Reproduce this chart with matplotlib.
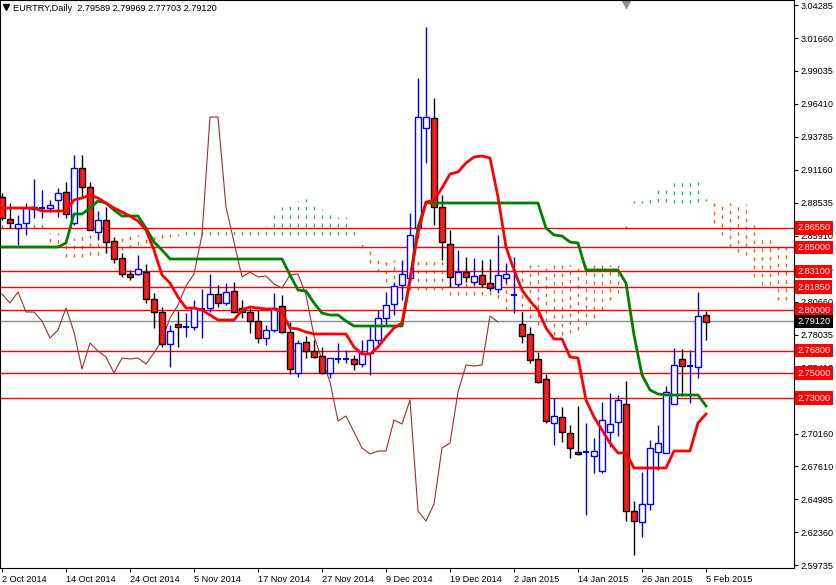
import numpy as np
import matplotlib
matplotlib.use("Agg")
import matplotlib.pyplot as plt
from matplotlib.transforms import blended_transform_factory

# Readings were taken off the chart in screen rows; the price scale of the
# chart is: price = 3.04683 - row * 0.0007955
P0, DP = 3.04683, 0.0007955


def to_price(rows):
    return P0 - np.asarray(rows, dtype=float) * DP


# daily candles, 2 Oct 2014 .. 5 Feb 2015 (open, high, low, close rows)
ohlc_rows = [
    (197, 193, 220, 218), (219, 203, 228, 223), (228, 215, 245, 224), (223, 203, 235, 208),
    (209, 179, 218, 207), (208, 190, 218, 207), (208, 200, 212, 205), (200, 188, 217, 193),
    (192, 182, 218, 214), (223, 155, 225, 168), (168, 155, 198, 187), (187, 182, 230, 230),
    (232, 211, 240, 220), (220, 207, 253, 242), (241, 237, 263, 259), (258, 253, 277, 274),
    (274, 270, 280, 277), (274, 255, 275, 269), (272, 264, 303, 299), (299, 293, 328, 312),
    (312, 307, 347, 344), (344, 325, 367, 331), (324, 311, 347, 327), (327, 313, 337, 327),
    (327, 300, 330, 308), (309, 289, 338, 308), (308, 274, 312, 294), (294, 285, 307, 303),
    (303, 283, 305, 292), (291, 282, 313, 312), (308, 300, 318, 312), (312, 308, 333, 321),
    (321, 310, 343, 338), (338, 325, 345, 330), (330, 293, 332, 308), (306, 295, 333, 332),
    (332, 322, 374, 369), (373, 340, 377, 343), (342, 336, 358, 351), (351, 340, 358, 357),
    (356, 347, 374, 373), (373, 358, 378, 358), (359, 343, 363, 359), (359, 350, 363, 358),
    (359, 355, 370, 364), (364, 340, 367, 353), (353, 325, 375, 340), (340, 310, 347, 318),
    (318, 292, 325, 305), (304, 282, 315, 286), (285, 260, 300, 274), (278, 213, 283, 235),
    (228, 78, 238, 117), (128, 27, 163, 117), (118, 98, 225, 207), (207, 195, 260, 242),
    (244, 230, 287, 277), (284, 250, 287, 272), (272, 257, 282, 277), (282, 258, 285, 276),
    (275, 260, 287, 284), (283, 259, 291, 288), (289, 235, 293, 275), (278, 263, 283, 274),
    (295, 257, 313, 295), (324, 312, 343, 336), (334, 327, 363, 360), (359, 352, 383, 382),
    (379, 374, 423, 421), (423, 398, 445, 416), (417, 407, 442, 432), (433, 425, 458, 448),
    (452, 406, 455, 454), (452, 423, 515, 451), (456, 438, 473, 451), (471, 402, 473, 420),
    (432, 393, 447, 424), (422, 395, 436, 400), (404, 381, 521, 511), (511, 501, 555, 521),
    (522, 472, 537, 504), (504, 440, 510, 448), (452, 425, 470, 443), (453, 386, 453, 392),
    (404, 348, 404, 365), (359, 349, 396, 366), (366, 350, 403, 365), (367, 292, 378, 316),
    (315, 311, 340, 322),
]

tenkan_rows = ([208] * 5 + [211] * 4 + [200, 198, 195, 198, 203, 208, 212, 216, 221, 230,
               250, 275, 283, 297, 308, 308, 310, 315, 320, 320, 320, 310, 307, 308, 309,
               309, 312, 328, 329, 332] + [334] * 5 +
               [347, 354, 354, 347, 337, 328, 323, 280, 233, 202, 200, 188, 174, 172, 163,
                157, 156, 158, 197, 247, 270, 290, 301, 310, 328, 339, 339, 357, 358, 400,
                417, 430, 443, 453, 453] + [468] * 5 + [451] * 3 + [423, 414])

kijun_rows = ([247] * 8 + [243, 214, 214, 208, 201, 203, 210, 216, 216, 216, 228, 242, 250] +
              [259] * 15 + [275, 290, 291, 303, 313, 315, 315, 321] + [326] * 7 +
              [280, 227] + [203] * 15 + [228, 235, 236, 242, 243] + [270] * 5 +
              [283, 335, 375, 390, 394] + [395] * 5 + [406])

# Ichimoku cloud, already shifted 26 bars forward (100 bars)
span_a_rows = ([222] * 6 + [242, 243, 257, 257, 257, 255, 255, 253, 252, 250, 248, 245, 243,
               240, 238, 237, 236] + [229] * 4 + [228] * 5 +
               [227, 226, 215, 207, 204, 201, 199, 203, 209, 215, 217, 217, 228,
                248, 263, 272, 282, 287] + [290] * 6 + [295] * 6 +
               [298, 310, 312, 315, 318, 325, 330, 335, 335, 333, 330, 325, 318, 310, 300, 293,
                226, 201, 201, 195, 188, 187, 183, 179, 179, 181, 199,
                223, 235, 247, 252, 255, 277, 285, 285, 300, 300, 333])
span_b_rows = ([228] * 6 + [233, 233, 238, 238] + [235] * 10 + [234] * 3 + [235] * 22 +
               [242, 250] + [260] * 9 + [263] * 8 + [265] * 14 +
               [229, 203, 203, 203, 202, 202, 203, 203, 203, 202, 201,
                203, 203, 203, 203, 204, 225, 235, 235, 242, 242, 270])

levels = [2.8655, 2.8500, 2.8310, 2.8185, 2.8000, 2.7680, 2.7500, 2.7300]
bid = 2.7912
y_ticks = [3.04285, 3.01660, 2.99035, 2.96410, 2.93785, 2.91160, 2.88535, 2.85910,
           2.83285, 2.80660, 2.78035, 2.75410, 2.72785, 2.70160, 2.67610, 2.64985,
           2.62360, 2.59735]
date_labels = ["2 Oct 2014", "14 Oct 2014", "24 Oct 2014", "5 Nov 2014", "17 Nov 2014",
               "27 Nov 2014", "9 Dec 2014", "19 Dec 2014", "2 Jan 2015", "14 Jan 2015",
               "26 Jan 2015", "5 Feb 2015"]

o, h, l, c = (to_price(col) for col in zip(*ohlc_rows))
tenkan = to_price(tenkan_rows)
kijun = to_price(kijun_rows)
span_a = to_price(span_a_rows)
span_b = to_price(span_b_rows)
n = len(c)
chikou = c[26:]

plt.rcParams["font.family"] = ["Liberation Sans", "DejaVu Sans"]
FS = 6.6

fig = plt.figure(figsize=(8.37, 5.85), dpi=100)
ax = fig.add_axes([0.0, 1 - 568 / 585, 794 / 837, 568 / 585])
ax.set_xlim(-0.25, 99.0)
ax.set_ylim(P0 - 568 * DP, P0)

# cloud as dotted verticals
for i in range(len(span_a)):
    col = "#2db36b" if span_a[i] > span_b[i] else "#ff5a14"
    ax.vlines(i, min(span_a[i], span_b[i]), max(span_a[i], span_b[i]), colors=col,
              linewidth=1, linestyles=(0, (2.5, 3.5)), zorder=1)

for lv in levels:
    ax.axhline(lv, color="#ff0000", linewidth=1, zorder=2)
ax.axhline(bid, color="#8c8c8c", linewidth=1, zorder=2)

ax.plot(np.arange(len(chikou)), chikou, color="#a0302a", linewidth=0.8, zorder=3)

# candles
x = np.arange(n)
for i in range(n):
    up = c[i] >= o[i]
    edge = "#0000ff" if up else "#000000"
    face = "#ffffff" if up else "#ff1a1a"
    ax.vlines(i, l[i], h[i], colors=edge, linewidth=1, zorder=4)
    lo, hi = sorted((o[i], c[i]))
    if hi - lo < 1.5 * DP:
        ax.hlines((lo + hi) / 2, i - 0.35, i + 0.35, colors=edge, linewidth=1.5, zorder=5)
    else:
        ax.add_patch(plt.Rectangle((i - 0.32, lo), 0.64, hi - lo, facecolor=face,
                                   edgecolor=edge, linewidth=1, zorder=5))

ax.plot(x, kijun, color="#008000", linewidth=2, zorder=6)
ax.plot(x, tenkan, color="#ff0000", linewidth=2, zorder=6)

# axes styling
ax.yaxis.tick_right()
ax.set_yticks(y_ticks)
ax.set_yticklabels([f"{v:.5f}" for v in y_ticks], fontsize=FS)
ax.set_xticks(np.arange(0, 89, 8))
ax.set_xticklabels(date_labels, fontsize=FS, ha="left")
ax.tick_params(axis="both", direction="out", length=3, width=0.8, pad=2)
for sp in ax.spines.values():
    sp.set_linewidth(0.8)

tr = blended_transform_factory(ax.transAxes, ax.transData)
for lv in levels:
    ax.text(1.004, lv, f"{lv:.5f}", transform=tr, fontsize=FS, color="white", va="center",
            ha="left", zorder=10, clip_on=False,
            bbox=dict(boxstyle="square,pad=0.25", facecolor="#ff0000", edgecolor="none"))
ax.text(1.004, bid, f"{bid:.5f}", transform=tr, fontsize=FS, color="white", va="center",
        ha="left", zorder=10, clip_on=False,
        bbox=dict(boxstyle="square,pad=0.25", facecolor="#000000", edgecolor="none"))

ax.text(0.016, 0.993, "EURTRY,Daily  2.79589 2.79969 2.77703 2.79120", transform=ax.transAxes,
        fontsize=FS, va="top", ha="left")
ax.plot([0.007], [0.987], marker="v", color="black", markersize=4, transform=ax.transAxes,
        clip_on=False)
ax.plot([0.788], [0.997], marker="v", color="#8a8f99", markersize=8, transform=ax.transAxes,
        clip_on=False)

fig.savefig("out.png", dpi=100)
